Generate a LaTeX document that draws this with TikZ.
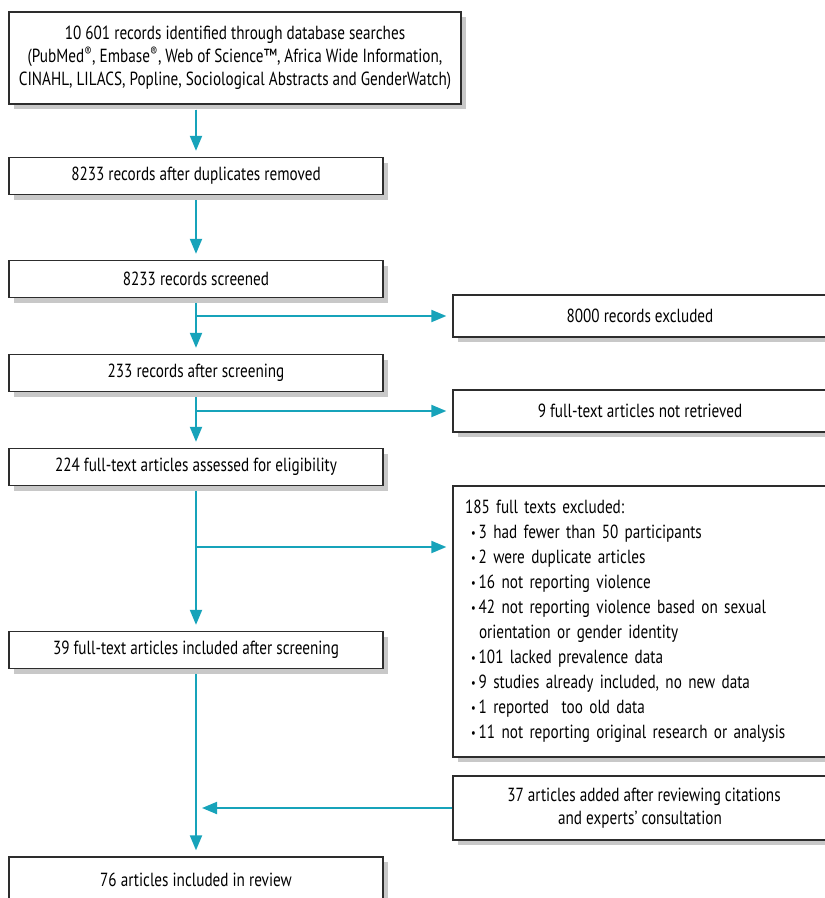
\documentclass[tikz,border=0pt]{standalone}
\usepackage{fontspec}
\setmainfont[FakeStretch=0.8]{PT Sans}
\usepackage{tikz}
\usetikzlibrary{arrows.meta, positioning, shadows}
\definecolor{flowline}{RGB}{23,163,186}
\definecolor{boxshadow}{RGB}{200,200,200}
\definecolor{boxedge}{RGB}{45,45,45}
\newcommand{\excl}{\hspace*{6pt}{\fontsize{13}{13}\selectfont\raisebox{1.5pt}{•}}\hspace{3pt}}

\begin{document}
\begin{tikzpicture}[x=1pt, y=-1pt, font=\fontsize{19}{23}\selectfont]
    % Define styles
    \tikzstyle{stage} = [rectangle, draw=boxedge, line width=1.3pt, fill=white, minimum width=374pt, minimum height=37pt, inner sep=0pt, align=center, drop shadow={shadow xshift=5pt, shadow yshift=-5pt, fill=boxshadow, opacity=1}]
    \tikzstyle{sidebox} = [stage, minimum width=382pt, minimum height=42pt]
    \tikzstyle{arrow} = [line width=2pt, draw=flowline, fill=flowline, -{Triangle[length=15pt, width=12pt]}, shorten <=5pt, shorten >=6pt]

    \useasboundingbox (0,0) rectangle (825,898);

    % Nodes
    \node (search) [stage, minimum width=452pt, minimum height=92pt] at (235,58) {10 601 records identified through database searches\\ (PubMed\textsuperscript{®}, Embase\textsuperscript{®}, Web of Science™, Africa Wide Information,\\ CINAHL, LILACS, Popline, Sociological Abstracts and GenderWatch)};
    \node (dedup) [stage] at (196,176) {8233 records after duplicates removed};
    \node (screened) [stage] at (196,279) {8233 records screened};
    \node (afterscr) [stage] at (196,373) {233 records after screening};
    \node (assessed) [stage] at (196,467) {224 full-text articles assessed for eligibility};
    \node (included) [stage] at (196,650) {39 full-text articles included after screening};
    \node (review) [stage, minimum height=45pt] at (196,879.5) {76 articles included in review};

    \node (excluded) [sidebox] at (644,316) {\hspace*{-8pt}8000 records excluded};
    \node (notretr) [sidebox] at (644,411) {\hspace*{-8pt}9 full-text articles not retrieved};
    \node (reasons) [sidebox, minimum height=271pt, text width=358pt, align=left, font=\fontsize{19}{25}\selectfont] at (644,621.5) {185 full texts excluded:\\
        \excl 3 had fewer than 50 participants\\
        \excl 2 were duplicate articles\\
        \excl 16 not reporting violence\\
        \excl 42 not reporting violence based on sexual\\
        \hspace*{14pt}orientation or gender identity\\
        \excl 101 lacked prevalence data\\
        \excl 9 studies already included, no new data\\
        \excl 1 reported\ \ too old data\\
        \excl 11 not reporting original research or analysis};
    \node (added) [sidebox, minimum height=64pt] at (644,808) {37 articles added after reviewing citations\\ and experts' consultation\hspace*{8pt}};

    % Arrows
    \draw [arrow] (search.south -| dedup.north) -- (dedup.north);
    \draw [arrow] (dedup) -- (screened);
    \draw [arrow] (screened) -- (afterscr);
    \draw [arrow] (afterscr) -- (assessed);
    \draw [arrow] (assessed) -- (included);
    \draw [arrow] (included) -- (review);
    \draw [arrow, shorten <=0pt] (screened.south |- excluded.west) -- (excluded.west);
    \draw [arrow, shorten <=0pt] (afterscr.south |- notretr.west) -- (notretr.west);
    \coordinate (tap) at (196,547);
    \draw [arrow, shorten <=0pt] (tap) -- (tap -| reasons.west);
    \draw [arrow, shorten <=0pt] (added.west) -- (added.west -| included.south);
\end{tikzpicture}
\end{document}
